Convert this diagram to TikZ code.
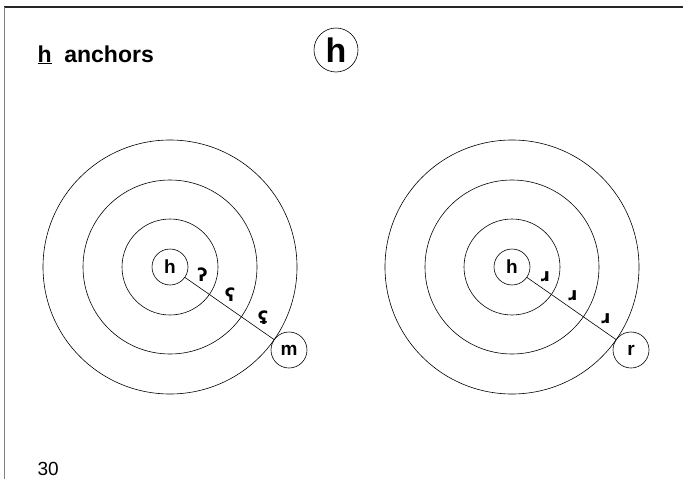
\documentclass[tikz,border=0pt]{standalone}
\usepackage{fontspec}
\setmainfont{Liberation Sans}
\newfontfamily\ipafont{DejaVu Sans}
\tikzset{
  x=1pt,
  y=-1pt,
}
\tikzstyle{ring}=[line width=.6pt]
\tikzstyle{seg}=[circle,draw,line width=.6pt,minimum size=36pt,inner sep=0pt,font=\bfseries\fontsize{19}{19}\selectfont]
\tikzstyle{sym}=[inner sep=1pt,above=3pt,xshift=5pt,font=\ipafont\bfseries\fontsize{18}{18}\selectfont]

\begin{document}
\begin{tikzpicture}
    \useasboundingbox (0,0) rectangle (683,479);
    \draw[line width=1.2pt,black!85] (4,7)--(683,7);
    \draw[gray] (4,7)--(4,479);
    \node[anchor=base west,font=\bfseries\fontsize{23}{23}\selectfont] (title) at (34,62) {\underline{h}\ \ anchors};
    \node[seg,minimum size=44pt,font=\bfseries\fontsize{34}{34}\selectfont] (head) at (336,50) {h};
    % left: h and m
    \foreach \r in {48,87,127} \draw[ring] (170,267) circle (\r pt);
    \node[seg] (hl) at (170,267) {h};
    \node[seg] (m) at (289,350) {m};
    \draw[ring] (hl)--(m)
      node[sym,pos=.14]{ʔ}
      node[sym,pos=.45]{ʕ}
      node[sym,pos=.82]{ʢ};
    % right: h and r
    \foreach \r in {48,87,127} \draw[ring] (512,267) circle (\r pt);
    \node[seg] (hr) at (512,267) {h};
    \node[seg] (r) at (631,350) {r};
    \draw[ring] (hr)--(r)
      node[sym,pos=.14]{ɹ}
      node[sym,pos=.45]{ɹ}
      node[sym,pos=.82]{ɹ};
    \node[anchor=base west,font=\fontsize{19}{19}\selectfont] (page) at (34,475) {30};
  \end{tikzpicture}
\end{document}
